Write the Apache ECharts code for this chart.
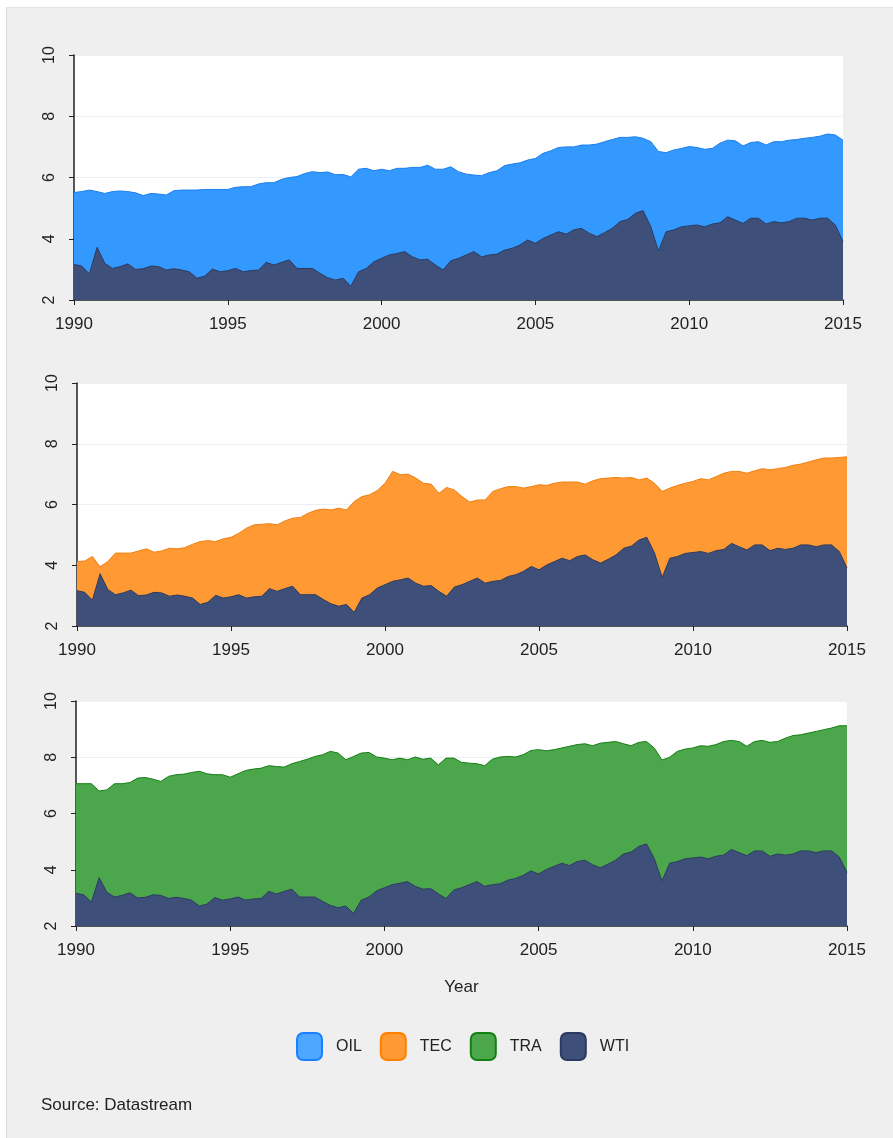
<!DOCTYPE html>
<html>
<head>
<meta charset="UTF-8">
<title>OIL / TEC / TRA vs WTI</title>
<style>
body { margin: 0; background: #fff; }
#bg {
	position: absolute; left: 6px; top: 7px; right: 0; bottom: 0;
	background: #efefef;
	border-left: 1px solid #d9d9d9;
	border-top: 1px solid #e0e5e5;
}
#main { position: absolute; left: 0; top: 0; width: 893px; height: 1138px; }
</style>
</head>
<body>
<div id="bg"></div>
<div id="main"></div>
<script src="https://cdn.jsdelivr.net/npm/echarts@6/dist/echarts.min.js"></script>
<script>
// quarterly readings, 1990Q1 .. 2015Q1
var wti = [
	3.16, 3.11, 2.85, 3.72,  3.20, 3.03, 3.09, 3.18,  3.00, 3.02, 3.11, 3.09,
	2.98, 3.02, 2.98, 2.92,  2.71, 2.78, 3.01, 2.92,  2.96, 3.03, 2.92, 2.96,
	2.98, 3.23, 3.14, 3.23,  3.31, 3.03, 3.03, 3.03,  2.87, 2.73, 2.65, 2.71,
	2.45, 2.92, 3.03, 3.25,  3.36, 3.47, 3.52, 3.58,  3.41, 3.31, 3.33, 3.14,
	2.98, 3.28, 3.36, 3.47,  3.58, 3.41, 3.47, 3.50,  3.63, 3.69, 3.80, 3.96,
	3.85, 4.01, 4.12, 4.23,  4.15, 4.29, 4.34, 4.18,  4.07, 4.20, 4.34, 4.56,
	4.63, 4.83, 4.92, 4.40,  3.60, 4.23, 4.29, 4.39,  4.42, 4.45, 4.39, 4.48,
	4.52, 4.72, 4.61, 4.50,  4.67, 4.67, 4.48, 4.56,  4.52, 4.56, 4.67, 4.67,
	4.61, 4.67, 4.67, 4.45,  3.91
];
var oil = [
	5.51, 5.54, 5.59, 5.54,  5.48, 5.54, 5.56, 5.54,  5.50, 5.41, 5.48, 5.46,
	5.43, 5.57, 5.59, 5.59,  5.59, 5.61, 5.61, 5.61,  5.61, 5.68, 5.70, 5.70,
	5.79, 5.83, 5.83, 5.94,  6.00, 6.03, 6.13, 6.19,  6.16, 6.18, 6.09, 6.10,
	6.02, 6.27, 6.30, 6.22,  6.27, 6.22, 6.30, 6.30,  6.33, 6.33, 6.40, 6.27,
	6.27, 6.35, 6.19, 6.11,  6.08, 6.06, 6.16, 6.22,  6.39, 6.44, 6.48, 6.57,
	6.62, 6.79, 6.87, 6.98,  7.00, 7.00, 7.06, 7.06,  7.09, 7.17, 7.24, 7.31,
	7.31, 7.33, 7.28, 7.17,  6.85, 6.81, 6.90, 6.95,  7.01, 6.98, 6.92, 6.95,
	7.12, 7.22, 7.20, 7.03,  7.14, 7.17, 7.06, 7.17,  7.17, 7.22, 7.24, 7.28,
	7.31, 7.35, 7.42, 7.39,  7.22
];
var tec = [
	4.12, 4.14, 4.29, 3.95,  4.12, 4.40, 4.40, 4.40,  4.47, 4.54, 4.43, 4.47,
	4.56, 4.54, 4.58, 4.69,  4.78, 4.81, 4.78, 4.87,  4.92, 5.05, 5.22, 5.33,
	5.35, 5.37, 5.33, 5.46,  5.55, 5.57, 5.71, 5.81,  5.85, 5.82, 5.88, 5.82,
	6.10, 6.26, 6.32, 6.46,  6.70, 7.09, 6.98, 7.00,  6.87, 6.70, 6.67, 6.37,
	6.56, 6.48, 6.26, 6.08,  6.15, 6.15, 6.43, 6.52,  6.59, 6.59, 6.54, 6.59,
	6.65, 6.63, 6.70, 6.74,  6.74, 6.74, 6.67, 6.78,  6.85, 6.87, 6.89, 6.87,
	6.89, 6.81, 6.87, 6.70,  6.43, 6.54, 6.63, 6.70,  6.76, 6.85, 6.81, 6.92,
	7.03, 7.09, 7.09, 7.03,  7.11, 7.18, 7.14, 7.18,  7.22, 7.29, 7.33, 7.40,
	7.47, 7.53, 7.53, 7.55,  7.57
];
var tra = [
	7.06, 7.06, 7.06, 6.80,  6.84, 7.06, 7.06, 7.10,  7.26, 7.28, 7.22, 7.14,
	7.32, 7.38, 7.40, 7.46,  7.50, 7.41, 7.38, 7.38,  7.29, 7.41, 7.53, 7.58,
	7.61, 7.70, 7.67, 7.65,  7.77, 7.85, 7.93, 8.03,  8.09, 8.21, 8.15, 7.91,
	8.03, 8.15, 8.17, 8.01,  7.97, 7.91, 7.97, 7.91,  8.01, 7.93, 7.97, 7.73,
	7.97, 7.97, 7.82, 7.79,  7.77, 7.70, 7.93, 8.01,  8.03, 8.01, 8.09, 8.24,
	8.27, 8.23, 8.27, 8.33,  8.39, 8.45, 8.48, 8.41,  8.50, 8.53, 8.56, 8.48,
	8.41, 8.53, 8.56, 8.33,  7.90, 8.00, 8.21, 8.29,  8.33, 8.41, 8.39, 8.45,
	8.56, 8.60, 8.56, 8.39,  8.56, 8.60, 8.53, 8.56,  8.68, 8.77, 8.80, 8.86,
	8.92, 8.98, 9.04, 9.12,  9.12
];
var legendNames = ['OIL', 'TEC', 'TRA', 'WTI'];

var quarters = [];
for (var i = 0; i < wti.length; i++) {
	quarters.push(1990 + i / 4);
}
function pairs(vals) {
	var out = [];
	for (var i = 0; i < vals.length; i++) out.push([quarters[i], vals[i]]);
	return out;
}

var fontFam = '"Liberation Sans", Arial, sans-serif';
var grids = [
	{ left: 74, top: 55, width: 769, height: 245 },
	{ left: 77, top: 383, width: 770, height: 243 },
	{ left: 76, top: 701, width: 771, height: 225 }
];

var xAxes = [], yAxes = [];
for (var g = 0; g < 3; g++) {
	grids[g].show = true;
	grids[g].backgroundColor = '#fff';
	grids[g].borderWidth = 0;
	xAxes.push({
		type: 'value', gridIndex: g, min: 1990, max: 2015, interval: 5,
		axisLine: { lineStyle: { color: '#222', width: 1.5 } },
		axisTick: { length: 5, lineStyle: { color: '#222' } },
		splitLine: { show: false },
		axisLabel: { color: '#222', fontSize: 17, fontFamily: fontFam, margin: 16, formatter: function(v) { return String(v); } },
		name: g == 2 ? 'Year' : '', nameLocation: 'middle', nameGap: 53,
		nameTextStyle: { color: '#222', fontSize: 17, fontFamily: fontFam }
	});
	yAxes.push({
		type: 'value', gridIndex: g, min: 2, max: 10, interval: 2,
		axisLine: { show: true, lineStyle: { color: '#222', width: 1.5 } },
		axisTick: { show: true, length: 5, lineStyle: { color: '#222' } },
		splitLine: { show: true, lineStyle: { color: '#eaf0f3', width: 1 } },
		axisLabel: { color: '#222', fontSize: 16, fontFamily: fontFam, rotate: 90, margin: 16 }
	});
}

function area(name, vals, g, fill, line) {
	return {
		name: name, type: 'line', xAxisIndex: g, yAxisIndex: g,
		data: pairs(vals), showSymbol: false, symbol: 'none',
		lineStyle: { color: line, width: 1 },
		itemStyle: { color: fill },
		areaStyle: { color: fill, opacity: 1, origin: 'start' },
		animation: false
	};
}

var myChart = echarts.init(document.getElementById('main'));
var option = {
	backgroundColor: 'transparent',
	animation: false,
	grid: grids,
	xAxis: xAxes,
	yAxis: yAxes,
	title: {
		text: 'Source: Datastream', left: 36, top: 1092,
		textStyle: { color: '#222', fontSize: 17, fontWeight: 'normal', fontFamily: fontFam }
	},
	legend: {
		left: 296, top: 1032, padding: 0, icon: 'roundRect',
		itemWidth: 25, itemHeight: 27, itemGap: 18,
		textStyle: { color: '#222', fontSize: 16, fontFamily: fontFam, padding: [0, 0, 0, 9] },
		data: [
			{ name: legendNames[0], itemStyle: { color: '#4da6ff', borderColor: '#1a80ff', borderWidth: 2 } },
			{ name: legendNames[1], itemStyle: { color: '#ff9933', borderColor: '#ff8000', borderWidth: 2 } },
			{ name: legendNames[2], itemStyle: { color: '#4ca64c', borderColor: '#138013', borderWidth: 2 } },
			{ name: legendNames[3], itemStyle: { color: '#3e5079', borderColor: '#2a3a60', borderWidth: 2 } }
		]
	},
	series: [
		area('OIL', oil, 0, '#3399ff', '#1a7fee'),
		area('WTI', wti, 0, '#3e5079', '#2c3b60'),
		area('TEC', tec, 1, '#ff9933', '#f08010'),
		area('WTI', wti, 1, '#3e5079', '#2c3b60'),
		area('TRA', tra, 2, '#4ca64c', '#138013'),
		area('WTI', wti, 2, '#3e5079', '#2c3b60')
	]
};
myChart.setOption(option);
</script>
</body>
</html>
